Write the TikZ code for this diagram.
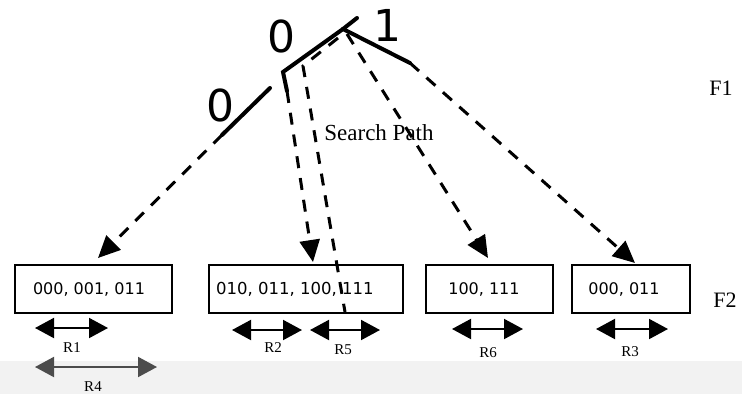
\documentclass[tikz,border=0pt]{standalone}
\usepackage{fontspec}
\setmainfont{Liberation Serif}
\newfontfamily\boxfont{DejaVu Sans}
\usetikzlibrary{arrows.meta,calc}
\begin{document}
\begin{tikzpicture}[x=1pt,y=-1pt,
  solidedge/.style={line width=4pt, line cap=round},
  dashedge/.style={line width=3pt, dash pattern=on 12pt off 10pt,
    -{Triangle[length=22pt,width=20pt]}},
  plaindash/.style={line width=3pt, dash pattern=on 12pt off 10pt},
  block/.style={draw, line width=1.8pt, minimum height=48pt, inner sep=0pt},
  blocktext/.style={font=\boxfont\fontsize{16}{19}\selectfont, inner sep=0pt},
  rangearrow/.style={line width=2pt,
    {Triangle[length=19pt,width=20pt]}-{Triangle[length=19pt,width=20pt]}},
  rlabel/.style={font=\fontsize{15}{18}\selectfont, inner sep=0pt},
  bit/.style={font=\boxfont\fontsize{44}{48}\selectfont, inner sep=0pt},
  level/.style={font=\fontsize{22}{26}\selectfont, inner sep=0pt},
]
\fill[white] (0,0) rectangle (742,394);
\fill[black!5] (0,361) rectangle (742,394);
\useasboundingbox (0,0) rectangle (742,394);

% leaf blocks (level F2)
\node[block, minimum width=157pt] (b1) at (93.5,289) {};
\node[block, minimum width=194pt] (b2) at (306,289) {};
\node[block, minimum width=127pt] (b3) at (489.5,289) {};
\node[block, minimum width=118pt] (b4) at (631,289) {};
\node[blocktext] (t1) at (89,289) {000, 001, 011};
\node[blocktext, anchor=west, font=\boxfont\fontsize{16.5}{19}\selectfont] (t2) at (216,289) {010, 011, 100, 111};
\node[blocktext] (t3) at (484,289) {100, 111};
\node[blocktext] (t4) at (624,289) {000, 011};

% tree points
\coordinate (root) at (343,29);
\coordinate (a) at (283,72);
\coordinate (l0) at (270,88);
\coordinate (l1) at (222,135);
\coordinate (m0) at (287,91);
\coordinate (r1) at (410,63);
\coordinate (tip1) at (98,258);
\coordinate (tip2) at (313,262);
\coordinate (tip3) at (488,258);
\coordinate (tip4) at (635,263);
\coordinate (s0) at (338,38);
\coordinate (s1) at (303,66);
\coordinate (s2) at (345,312);

% solid first parts of the edges
\draw[solidedge] (root) -- (a) -- (m0);
\draw[solidedge] (l0) -- (l1);
\draw[solidedge] (root) -- (r1);
\draw[solidedge] (root) -- ++(14,-11);

% dashed continuations down to the blocks
\draw[dashedge] (l1) -- (tip1);
\draw[dashedge] (m0) -- (tip2);
\draw[dashedge] ($(root)+(4,5)$) -- (tip3);
\draw[dashedge] (r1) -- (tip4);

% search path
\draw[plaindash] (s0) -- (s1) -- (s2);

% edge labels
\node[bit] (z1) at (281,36) {0};
\node[bit] (one) at (387,25) {1};
\node[bit] (z2) at (220,105) {0};
\node[font=\fontsize{23}{27}\selectfont, inner sep=0pt] (sp) at (379,133) {Search Path};

% level labels
\node[level] (f1) at (721,88) {F1};
\node[level] (f2) at (725,300) {F2};

% ranges under the blocks
\coordinate (r1a) at (35,328);  \coordinate (r1b) at (108,328);
\coordinate (r4a) at (35,367);  \coordinate (r4b) at (157,367);
\coordinate (r2a) at (232,330); \coordinate (r2b) at (302,330);
\coordinate (r5a) at (310,330); \coordinate (r5b) at (380,330);
\coordinate (r6a) at (452,329); \coordinate (r6b) at (523,329);
\coordinate (r3a) at (596,329); \coordinate (r3b) at (668,329);
\draw[rangearrow] (r1a) -- (r1b);
\draw[rangearrow, black!70] (r4a) -- (r4b);
\draw[rangearrow] (r2a) -- (r2b);
\draw[rangearrow] (r5a) -- (r5b);
\draw[rangearrow] (r6a) -- (r6b);
\draw[rangearrow] (r3a) -- (r3b);
\node[rlabel] (lr1) at (72,348) {R1};
\node[rlabel] (lr4) at (93,387) {R4};
\node[rlabel] (lr2) at (273,348) {R2};
\node[rlabel] (lr5) at (343,350) {R5};
\node[rlabel] (lr6) at (488,353) {R6};
\node[rlabel] (lr3) at (630,352) {R3};
\end{tikzpicture}
\end{document}
